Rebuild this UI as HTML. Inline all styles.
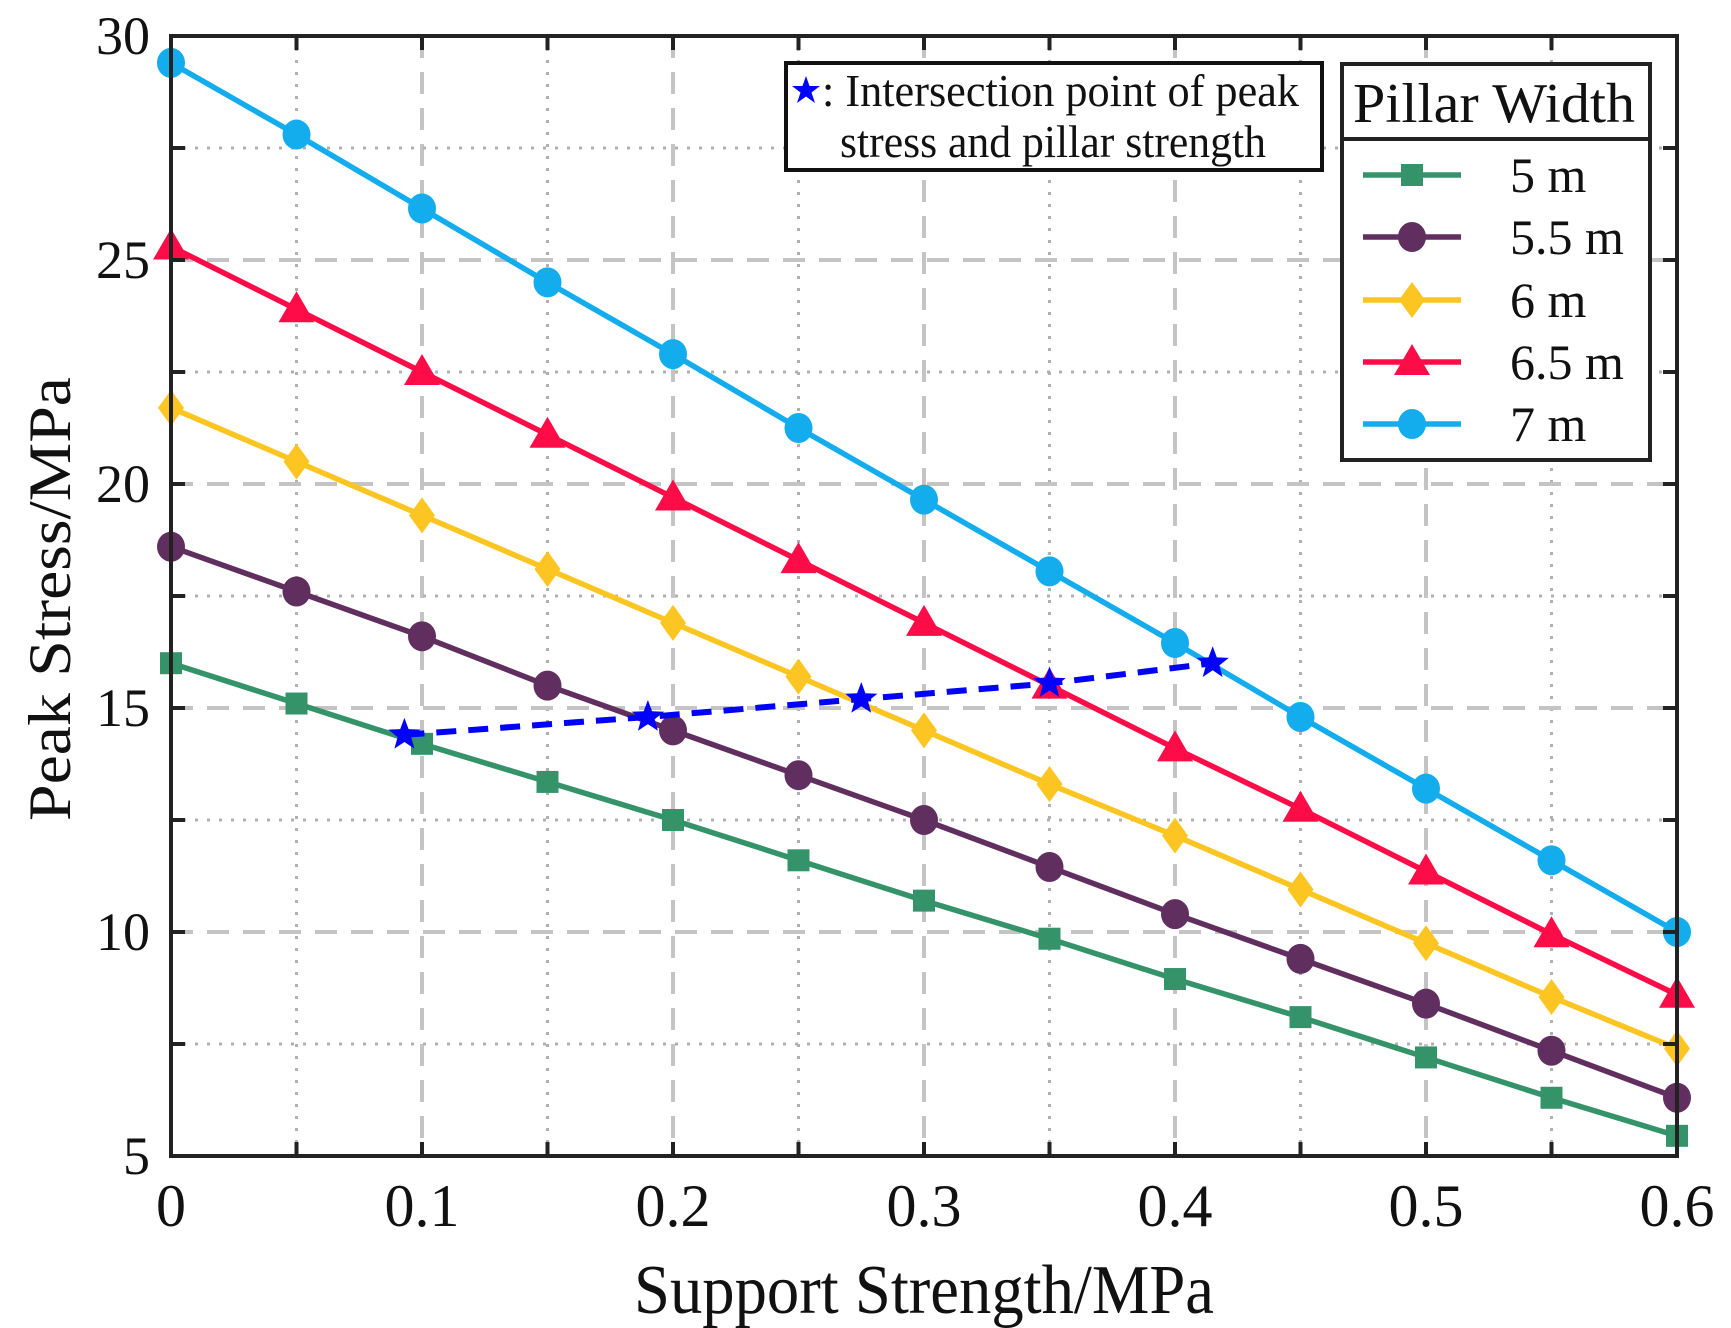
<!DOCTYPE html>
<html><head><meta charset="utf-8"><style>
html,body{margin:0;padding:0;background:#fff;}
svg{display:block;font-family:"Liberation Serif","Times New Roman",serif;}
</style></head><body>
<svg id="chart" width="1731" height="1328" viewBox="0 0 1731 1328" xmlns="http://www.w3.org/2000/svg">
<g id="grid"></g>
<g id="series"></g>
<g id="axes"></g>
<text x="634" y="1313" font-size="70" textLength="580" lengthAdjust="spacingAndGlyphs" fill="#111">Support Strength/MPa</text>
<text transform="translate(70,599) rotate(-90)" x="-222" y="0" font-size="60" textLength="444" lengthAdjust="spacingAndGlyphs" fill="#111">Peak Stress/MPa</text>
<g>
<rect x="786" y="63" width="536" height="107" fill="#fff" stroke="#111" stroke-width="4"/>
<polygon points="806,76 809.5,86 820,86 811.5,92.5 815,103 806,96.5 797,103 800.5,92.5 792,86 802.5,86" fill="#0000ff"/>
<text x="822" y="106" font-size="46" textLength="477" lengthAdjust="spacingAndGlyphs" fill="#111">: Intersection point of peak</text>
<text x="840" y="157" font-size="46" textLength="426" lengthAdjust="spacingAndGlyphs" fill="#111">stress and pillar strength</text>
</g>
<g id="legend">
<rect x="1342" y="64" width="308" height="396" fill="#fff" stroke="#222" stroke-width="4"/>
<line x1="1342" y1="139" x2="1650" y2="139" stroke="#222" stroke-width="4"/>
<text x="1353" y="122" font-size="56" textLength="282" lengthAdjust="spacingAndGlyphs" fill="#111">Pillar Width</text>
</g>
</svg>
<script>
const xTicks=[0,0.1,0.2,0.3,0.4,0.5,0.6];
const xTickLabels=["0","0.1","0.2","0.3","0.4","0.5","0.6"];
const yTicks=[5,10,15,20,25,30];
const yTickLabels=["5","10","15","20","25","30"];
const supportStrength=[0,0.05,0.1,0.15,0.2,0.25,0.3,0.35,0.4,0.45,0.5,0.55,0.6];
const width5=[16.0,15.1,14.2,13.35,12.5,11.6,10.7,9.85,8.95,8.1,7.2,6.3,5.45];
const width55=[18.6,17.6,16.6,15.5,14.5,13.5,12.5,11.45,10.4,9.4,8.4,7.35,6.3];
const width6=[21.7,20.5,19.3,18.1,16.9,15.7,14.5,13.3,12.15,10.95,9.75,8.55,7.4];
const width65=[25.3,23.9,22.5,21.1,19.7,18.3,16.9,15.5,14.1,12.75,11.35,9.95,8.6];
const width7=[29.4,27.8,26.15,24.5,22.9,21.25,19.65,18.05,16.45,14.8,13.2,11.6,10.0];
const starX=[0.093,0.19,0.275,0.35,0.415];
const starY=[14.4,14.8,15.2,15.55,16.0];
const seriesNames=["5 m","5.5 m","6 m","6.5 m","7 m"];

const NS="http://www.w3.org/2000/svg";
const L=171,R=1677,T=36,B=1156;
const sx=v=>L+(v-0)/(0.6-0)*(R-L);
const sy=v=>B-(v-5)/(30-5)*(B-T);
function mk(tag,attrs,parent){const e=document.createElementNS(NS,tag);for(const k in attrs)e.setAttribute(k,attrs[k]);parent.appendChild(e);return e;}
const grid=document.getElementById('grid'),axes=document.getElementById('axes'),ser=document.getElementById('series'),leg=document.getElementById('legend');

for(let i=0;i<12;i++){
  const v=i*0.05; if(i===0) continue;
  const major=i%2===0;
  const g=mk('line',{x1:sx(v),x2:sx(v),y1:T,y2:B,stroke:major?'#c4c4c4':'#b0b0b0','stroke-width':major?4:3,'stroke-dasharray':major?'22 14':'3 9'},grid);
  
  
}
for(let i=1;i<10;i++){
  const v=5+i*2.5;
  const major=i%2===0;
  const g=mk('line',{x1:L,x2:R,y1:sy(v),y2:sy(v),stroke:major?'#c4c4c4':'#b0b0b0','stroke-width':major?4:3,'stroke-dasharray':major?'22 14':'3 9'},grid);
  
  
}
const box=mk('rect',{x:L,y:T,width:R-L,height:B-T,fill:'none',stroke:'#222','stroke-width':4},axes);


for(let i=0;i<=12;i++){
  const x=sx(i*0.05);
  mk('line',{x1:x,x2:x,y1:B,y2:B-14,stroke:'#222','stroke-width':4},axes);
  mk('line',{x1:x,x2:x,y1:T,y2:T+14,stroke:'#222','stroke-width':4},axes);
}
for(let i=0;i<=10;i++){
  const y=sy(5+i*2.5);
  mk('line',{x1:L,x2:L+14,y1:y,y2:y,stroke:'#222','stroke-width':4},axes);
  mk('line',{x1:R,x2:R-14,y1:y,y2:y,stroke:'#222','stroke-width':4},axes);
}
xTicks.forEach((v,i)=>{
  const t=mk('text',{x:sx(v),y:1226,'font-size':60,'text-anchor':'middle',fill:'#111'},axes);
  t.textContent=xTickLabels[i];
  
  
});
yTicks.forEach((v,i)=>{
  const t=mk('text',{x:150,y:sy(v)+18,'font-size':54,'text-anchor':'end',fill:'#111'},axes);
  t.textContent=yTickLabels[i];
  
  
});

function marker(type,x,y,color,parent){
  let e;
  if(type==='square') e=mk('rect',{x:x-11,y:y-11,width:22,height:22,fill:color},parent);
  else if(type==='circle') e=mk('ellipse',{cx:x,cy:y,rx:14,ry:15,fill:color},parent);
  else if(type==='diamond') e=mk('polygon',{points:`${x},${y-18} ${x+13},${y} ${x},${y+18} ${x-13},${y}`,fill:color},parent);
  else e=mk('polygon',{points:`${x},${y-18} ${x+18},${y+13} ${x-18},${y+13}`,fill:color},parent);
  return e;
}
const allSeries=[width5,width55,width6,width65,width7];
const colors=['#35936a','#612f5f','#fdc521','#fe0c48','#13acec'];
const marks=['square','circle','diamond','triangle','circle'];
const names=['series-5m','series-5-5m','series-6m','series-6-5m','series-7m'];
allSeries.forEach((vals,si)=>{
  const g=mk('g',{},ser);
  
  
  const pts=vals.map((v,i)=>sx(supportStrength[i])+','+sy(v)).join(' ');
  mk('polyline',{points:pts,fill:'none',stroke:colors[si],'stroke-width':5.5},g);
  vals.forEach((v,i)=>{
    const m=marker(marks[si],sx(supportStrength[i]),sy(v),colors[si],g);
    
    
  });
});
const ig=mk('g',{},ser);


mk('polyline',{points:starX.map((v,i)=>sx(v)+','+sy(starY[i])).join(' '),fill:'none',stroke:'#0000ff','stroke-width':6,'stroke-dasharray':'20 12'},ig);
function star(x,y,r,parent){
  const p=[];for(let k=0;k<10;k++){const a=-Math.PI/2+k*Math.PI/5;const rr=k%2?r*0.42:r;p.push((x+rr*Math.cos(a)).toFixed(1)+','+(y+rr*Math.sin(a)).toFixed(1));}
  return mk('polygon',{points:p.join(' '),fill:'#0000ff'},parent);
}
starX.forEach((v,i)=>{
  const s=star(sx(v),sy(starY[i]),17,ig);
  
  
});
const legY=[175,237,300,362,424];
seriesNames.forEach((n,i)=>{
  const g=mk('g',{},leg);
  
  
  mk('line',{x1:1363,x2:1461,y1:legY[i],y2:legY[i],stroke:colors[i],'stroke-width':5.5},g);
  marker(marks[i],1412,legY[i],colors[i],g);
  const t=mk('text',{x:1510,y:legY[i]+17,'font-size':50,fill:'#111'},g);
  t.textContent=n;
});
</script>
</body></html>
